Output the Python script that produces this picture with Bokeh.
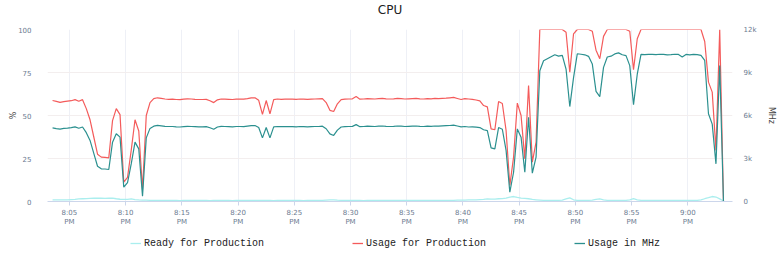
import pandas as pd
from bokeh.plotting import figure
from bokeh.layouts import column
from bokeh.core.properties import value
from bokeh.models import (Range1d, LinearAxis, FixedTicker, Legend, LegendItem,
                          ColumnDataSource)
from bokeh.embed import file_html
from bokeh.resources import INLINE

# ---------------- data ----------------
chart_title = "CPU"
start_time = "2024-01-01 20:03:30"
step = "20s"

usage_pct = [
    58.7, 58.2, 57.6, 58.1, 58.4, 58.6, 59.2, 58.3, 59.2, 54.0,
    47.5, 37.5, 27.5, 25.8, 25.6, 25.4, 47.0, 54.0, 50.5, 11.2,
    14.0, 30.0, 47.5, 41.0, 7.0, 50.0, 57.5, 59.8, 60.3, 60.0,
    59.6, 59.4, 59.5, 59.3, 59.2, 59.5, 59.7, 59.6, 59.4, 59.3,
    59.3, 59.4, 58.6, 57.5, 59.1, 59.6, 59.5, 59.4, 59.3, 59.5,
    59.6, 59.5, 59.8, 60.2, 60.3, 58.8, 50.6, 58.7, 51.0, 59.2,
    59.6, 59.4, 59.5, 59.6, 59.5, 59.4, 59.6, 59.5, 59.4, 59.5,
    59.6, 59.7, 59.8, 57.5, 53.0, 52.3, 56.8, 59.2, 59.5, 59.6,
    59.7, 61.0, 59.5, 59.6, 59.8, 59.7, 59.6, 59.8, 59.9, 59.7,
    59.6, 59.7, 59.9, 59.8, 59.6, 59.7, 59.8, 59.9, 59.7, 59.6,
    59.8, 59.7, 59.9, 59.8, 60.0, 60.1, 60.3, 60.5, 59.9, 59.3,
    59.8, 59.6, 59.4, 59.0, 58.5, 55.8, 55.0, 42.2, 41.7, 58.1,
    57.0, 41.3, 9.3, 25.8, 57.2, 50.0, 24.8, 67.4, 22.9, 34.5,
    100, 100, 100, 100, 100, 100, 100, 98.4, 75.2, 97.5,
    100, 100, 100, 100, 99.0, 88.0, 83.0, 96.0, 100, 100,
    100, 100, 100, 100, 99.0, 76.6, 94.6, 100, 100, 100,
    100, 100, 100, 100, 100, 100, 100, 100, 100, 100,
    100, 100, 100, 100, 93.0, 69.4, 63.6, 29.7, 100, 0.0,
]

usage_mhz = [
    5136, 5088, 5052, 5100, 5124, 5160, 5208, 5112, 5196, 4800,
    4260, 3360, 2460, 2280, 2268, 2232, 4140, 4728, 4488, 996,
    1320, 2640, 4140, 3672, 372, 4440, 5100, 5256, 5316, 5280,
    5244, 5232, 5232, 5208, 5196, 5220, 5244, 5232, 5220, 5208,
    5208, 5220, 5148, 5040, 5196, 5244, 5232, 5220, 5208, 5232,
    5232, 5220, 5256, 5292, 5304, 5160, 4440, 5160, 4440, 5208,
    5232, 5220, 5220, 5232, 5220, 5208, 5232, 5220, 5208, 5220,
    5232, 5232, 5256, 5076, 4716, 4608, 4980, 5196, 5220, 5232,
    5244, 5364, 5220, 5232, 5256, 5244, 5232, 5256, 5268, 5244,
    5232, 5244, 5268, 5256, 5232, 5244, 5256, 5268, 5244, 5232,
    5256, 5244, 5268, 5256, 5280, 5292, 5304, 5328, 5268, 5208,
    5232, 5196, 5208, 5184, 5160, 5004, 4944, 3744, 3672, 5160,
    5040, 3564, 648, 2040, 5064, 4488, 2040, 5880, 1980, 3096,
    9120, 9816, 9960, 10104, 10236, 10140, 10200, 9240, 6624, 8640,
    10308, 10272, 10236, 10128, 9600, 7680, 7320, 9360, 10080, 10140,
    10296, 10368, 10236, 10176, 9480, 6756, 8880, 10260, 10248, 10260,
    10260, 10248, 10272, 10260, 10236, 10248, 10272, 10260, 10080, 10260,
    10236, 10260, 10248, 10200, 9840, 6120, 5400, 2628, 9480, 0,
]

ready_pct = [
    1.0, 0.9, 0.9, 0.9, 1.0, 1.1, 1.2, 1.5, 1.6, 1.7,
    1.8, 1.9, 2.0, 1.9, 1.8, 1.9, 2.0, 1.6, 1.3, 1.2,
    1.2, 1.5, 1.1, 0.9, 0.8, 0.8, 0.7, 0.7, 0.6, 0.6,
    0.6, 0.7, 0.6, 0.6, 0.5, 0.6, 0.6, 0.7, 0.6, 0.6,
    0.6, 0.6, 0.5, 0.6, 0.7, 0.6, 0.6, 0.6, 0.5, 0.6,
    0.6, 0.6, 0.7, 0.6, 0.6, 0.7, 0.6, 0.6, 0.6, 0.5,
    0.6, 0.6, 0.6, 0.7, 0.6, 0.6, 0.6, 0.5, 0.6, 0.6,
    0.6, 0.6, 0.7, 0.8, 0.9, 1.0, 0.8, 0.7, 0.6, 0.6,
    0.6, 0.6, 0.6, 0.5, 0.6, 0.6, 0.6, 0.7, 0.6, 0.6,
    0.6, 0.6, 0.6, 0.6, 0.7, 0.6, 0.6, 0.6, 0.6, 0.6,
    0.6, 0.6, 0.7, 0.6, 0.6, 0.6, 0.7, 0.7, 0.8, 0.8,
    0.8, 0.9, 0.9, 1.0, 1.1, 1.2, 1.5, 1.4, 1.4, 1.6,
    1.7, 2.0, 2.5, 2.9, 2.4, 2.0, 1.8, 1.6, 1.2, 1.0,
    0.8, 0.6, 0.6, 0.6, 0.6, 0.6, 0.8, 1.5, 2.1, 1.0,
    0.7, 0.6, 0.6, 0.6, 0.8, 1.2, 1.5, 1.0, 0.7, 0.6,
    0.6, 0.6, 0.6, 0.6, 1.0, 1.6, 1.0, 0.6, 0.6, 0.6,
    0.6, 0.6, 0.6, 0.6, 0.6, 0.6, 0.6, 0.6, 0.6, 0.6,
    0.6, 0.6, 0.7, 0.9, 1.6, 2.2, 2.9, 2.6, 1.5, 0.3,
]

tick_minutes = [5, 10, 15, 20, 25, 30, 35, 40, 45, 50, 55, 60]
tick_labels = ["8:05\nPM", "8:10\nPM", "8:15\nPM", "8:20\nPM", "8:25\nPM", "8:30\nPM",
               "8:35\nPM", "8:40\nPM", "8:45\nPM", "8:50\nPM", "8:55\nPM", "9:00\nPM"]
pct_ticks = [0, 25, 50, 75, 100]
mhz_ticks = [0, 3000, 6000, 9000, 12000]
mhz_labels = ["0", "3k", "6k", "9k", "12k"]
series_names = ["Ready for Production", "Usage for Production", "Usage in MHz"]
series_colors = ["#aaeeee", "#f45b5b", "#2b908f"]

# ---------------- build ----------------
times = pd.date_range(start_time, periods=len(usage_pct), freq=step)
base = pd.Timestamp("2024-01-01 20:00:00")
minutes = [(t - base).total_seconds() / 60.0 for t in times]

src = ColumnDataSource(dict(x=minutes, usage=usage_pct, mhz=usage_mhz, ready=ready_pct))

TICK_COLOR = "#6b7a90"

# ---- title strip ----
tf = figure(width=779, height=18, output_backend="svg", toolbar_location=None,
            x_range=Range1d(0, 1), y_range=Range1d(0, 1),
            x_axis_location=None, y_axis_location=None, min_border=0)
tf.outline_line_color = None
tf.grid.visible = False
tf.background_fill_color = "white"
tf.border_fill_color = "white"
tf.text(x=[0.5], y=[0.5], text=[chart_title], text_align="center",
        text_baseline="middle", text_font=value("DejaVu Sans"),
        text_font_size="12px", text_color="#222222")

# ---- main chart ----
p = figure(width=779, height=212, output_backend="svg", toolbar_location=None,
           x_range=Range1d(3.05, 63.97), y_range=Range1d(0, 100),
           min_border_left=47, min_border_right=43, min_border_top=11,
           min_border_bottom=29)
p.extra_y_ranges = {"mhz": Range1d(0, 12000)}
p.outline_line_color = None
p.background_fill_color = "white"
p.border_fill_color = "white"

p.line("x", "ready", source=src, line_color=series_colors[0], line_width=1.3)
p.line("x", "usage", source=src, line_color=series_colors[1], line_width=1.2)
p.line("x", "mhz", source=src, y_range_name="mhz", line_color=series_colors[2], line_width=1.2)

# x axis
xa = p.xaxis[0]
xa.ticker = FixedTicker(ticks=tick_minutes)
xa.major_label_overrides = {m: l for m, l in zip(tick_minutes, tick_labels)}
xa.axis_line_color = "#ccd6eb"
xa.major_tick_line_color = "#ccd6eb"
xa.major_tick_out = 4
xa.major_tick_in = 0
xa.minor_tick_line_color = None
xa.major_label_text_font = "DejaVu Sans"
xa.major_label_text_font_size = "7px"
xa.major_label_text_color = TICK_COLOR
xa.major_label_standoff = 3

# left axis
ya = p.yaxis[0]
ya.ticker = FixedTicker(ticks=pct_ticks)
ya.axis_line_color = None
ya.major_tick_line_color = None
ya.minor_tick_line_color = None
ya.major_label_text_font = "DejaVu Sans"
ya.major_label_text_font_size = "7px"
ya.major_label_text_color = TICK_COLOR
ya.major_label_standoff = 10
ya.axis_label = "%"
ya.axis_label_text_font = "DejaVu Sans"
ya.axis_label_text_font_size = "8px"
ya.axis_label_text_font_style = "normal"
ya.axis_label_text_color = "#444444"
ya.axis_label_standoff = -3

# right axis
ra = LinearAxis(y_range_name="mhz", ticker=FixedTicker(ticks=mhz_ticks))
ra.major_label_overrides = {t: l for t, l in zip(mhz_ticks, mhz_labels)}
ra.axis_line_color = None
ra.major_tick_line_color = None
ra.minor_tick_line_color = None
ra.major_label_text_font = "DejaVu Sans"
ra.major_label_text_font_size = "7px"
ra.major_label_text_color = TICK_COLOR
ra.major_label_standoff = 5
ra.axis_label = "MHz"
ra.axis_label_text_font = "DejaVu Sans"
ra.axis_label_text_font_size = "8px"
ra.axis_label_text_font_style = "normal"
ra.axis_label_text_color = "#444444"
ra.axis_label_standoff = 8
try:
    ra.axis_label_orientation = "vertical"
except Exception:
    pass
p.add_layout(ra, "right")

# grids
p.xgrid.grid_line_color = "#eef0f6"
p.ygrid.grid_line_color = "#f3eeee"

# ---- legend strip ----
lg = figure(width=779, height=25, output_backend="svg", toolbar_location=None,
            x_range=Range1d(0, 1), y_range=Range1d(0, 1),
            x_axis_location=None, y_axis_location=None, min_border=0)
lg.outline_line_color = None
lg.grid.visible = False
lg.background_fill_color = "white"
lg.border_fill_color = "white"
leg_r = [lg.line("x", col, source=src, line_color=c, line_width=1.3)
         for col, c in zip(["ready", "usage", "mhz"], series_colors)]

legend = Legend(items=[LegendItem(label=n, renderers=[r]) for n, r in zip(series_names, leg_r)],
                orientation="horizontal", location=(83, 6))
legend.padding = 0
legend.margin = 0
legend.spacing = 88
legend.glyph_width = 11
legend.glyph_height = 10
legend.label_standoff = 3
legend.label_height = 12
legend.label_text_font = "Liberation Mono"
legend.label_text_font_size = "10px"
legend.label_text_color = "#222222"
legend.border_line_color = None
legend.background_fill_alpha = 0
lg.add_layout(legend, "center")

layout = column(tf, p, lg, spacing=0)
open("out.html", "w").write(file_html(layout, INLINE))
